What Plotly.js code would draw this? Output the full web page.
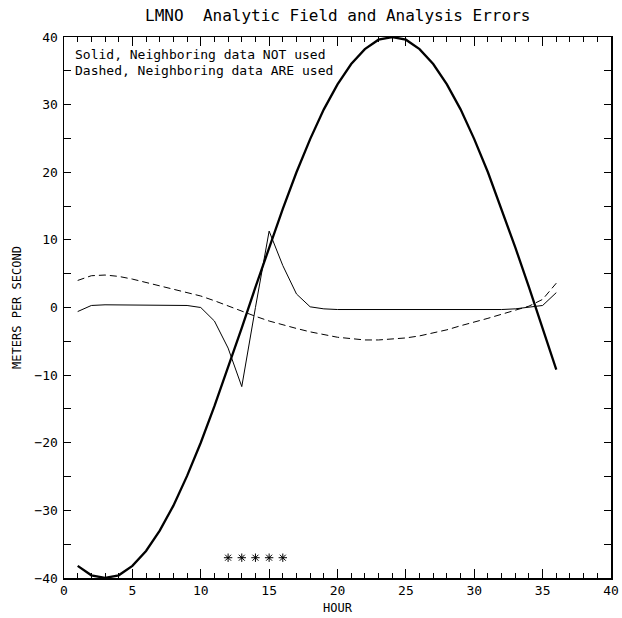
<!DOCTYPE html>
<html>
<head>
<meta charset="utf-8">
<script src="https://cdn.plot.ly/plotly-3.0.1.min.js"></script>
<style>html,body{margin:0;padding:0;background:#fff;}#chart{width:622px;height:618px;}</style>
</head>
<body>
<div id="chart"></div>
<script>
// Hours
var hours = [1,2,3,4,5,6,7,8,9,10,11,12,13,14,15,16,17,18,19,20,21,22,23,24,25,26,27,28,29,30,31,32,33,34,35,36];
// Analytic field (thick line)
var analytic = [-38.2,-39.6,-40.0,-39.6,-38.2,-36.0,-33.0,-29.3,-24.9,-20.0,-14.6,-8.9,-3.0,3.0,8.9,14.6,20.0,24.9,29.3,33.0,36.0,38.2,39.6,40.0,39.6,38.2,36.0,33.0,29.3,24.9,20.0,14.6,8.9,3.0,-3.0,-9.2];
// Analysis error, neighboring data NOT used (solid thin)
var errNotUsed = [-0.6,0.3,0.4,0.4,0.4,0.4,0.4,0.3,0.3,0.0,-2.0,-6.0,-11.7,0.0,11.3,6.2,2.0,0.1,-0.2,-0.3,-0.3,-0.4,-0.4,-0.4,-0.4,-0.4,-0.4,-0.4,-0.4,-0.4,-0.3,-0.3,-0.2,0.0,0.3,2.2];
// Analysis error, neighboring data ARE used (dashed thin)
var errUsed = [4.0,4.7,4.8,4.6,4.2,3.7,3.3,2.8,2.3,1.7,1.0,0.2,-0.6,-1.3,-2.0,-2.6,-3.1,-3.6,-4.0,-4.4,-4.6,-4.8,-4.8,-4.7,-4.5,-4.2,-3.8,-3.3,-2.7,-2.2,-1.6,-1.0,-0.4,0.2,1.2,3.6];
// Asterisk markers
var starHours = [12,13,14,15,16];
var starValues = [-37,-37,-37,-37,-37];

var FONT = "DejaVu Sans Mono, monospace";

var traces = [
  {x: hours, y: analytic, mode: 'lines', line: {color: '#000', width: 2.3}, hoverinfo: 'skip'},
  {x: hours, y: errNotUsed, mode: 'lines', line: {color: '#000', width: 1}, hoverinfo: 'skip'},
  {x: hours, y: errUsed, mode: 'lines', line: {color: '#000', width: 1, dash: '7px,4px'}, hoverinfo: 'skip'},
  {x: starHours, y: starValues, mode: 'markers', marker: {symbol: 'asterisk-open', size: 7, color: '#000', line: {color: '#000', width: 1}}, hoverinfo: 'skip'}
];

var layout = {
  width: 622, height: 618,
  margin: {l: 64, r: 11, t: 37, b: 40},
  paper_bgcolor: '#fff', plot_bgcolor: '#fff',
  showlegend: false,
  font: {family: FONT, color: '#000', size: 12},
  title: {text: 'LMNO  Analytic Field and Analysis Errors', font: {family: FONT, size: 16, color: '#000'}, x: 0.543, xanchor: 'center', y: 0.975, yanchor: 'middle'},
  xaxis: {
    range: [0, 40], dtick: 5, tick0: 0,
    showgrid: false, zeroline: false,
    showline: true, linecolor: '#000', linewidth: 1.5, mirror: 'ticks',
    ticks: 'inside', ticklen: 9, tickwidth: 1.2, tickcolor: '#000',
    minor: {dtick: 1, ticks: 'inside', ticklen: 5, tickwidth: 1, tickcolor: '#000', showgrid: false},
    tickfont: {family: FONT, size: 13, color: '#000'},
    title: {text: 'HOUR', font: {family: FONT, size: 12, color: '#000'}, standoff: 6}
  },
  yaxis: {
    range: [-40, 40], dtick: 10, tick0: 0,
    showgrid: false, zeroline: false,
    showline: true, linecolor: '#000', linewidth: 1.5, mirror: 'ticks',
    ticks: 'inside', ticklen: 7, tickwidth: 1.2, tickcolor: '#000',
    minor: {dtick: 5, ticks: 'inside', ticklen: 7, tickwidth: 1, tickcolor: '#000', showgrid: false},
    tickfont: {family: FONT, size: 13, color: '#000'},
    ticklabelstandoff: 2,
    title: {text: 'METERS PER SECOND', font: {family: FONT, size: 12, color: '#000'}, standoff: 10}
  },
  annotations: [
    {text: 'Solid, Neighboring data NOT used', xref: 'paper', yref: 'paper', x: 0.016, y: 0.967, xanchor: 'left', yanchor: 'middle', showarrow: false, font: {family: FONT, size: 13, color: '#000'}},
    {text: 'Dashed, Neighboring data ARE used', xref: 'paper', yref: 'paper', x: 0.016, y: 0.939, xanchor: 'left', yanchor: 'middle', showarrow: false, font: {family: FONT, size: 13, color: '#000'}}
  ]
};

Plotly.newPlot('chart', traces, layout, {displayModeBar: false, staticPlot: true});
</script>
</body>
</html>
